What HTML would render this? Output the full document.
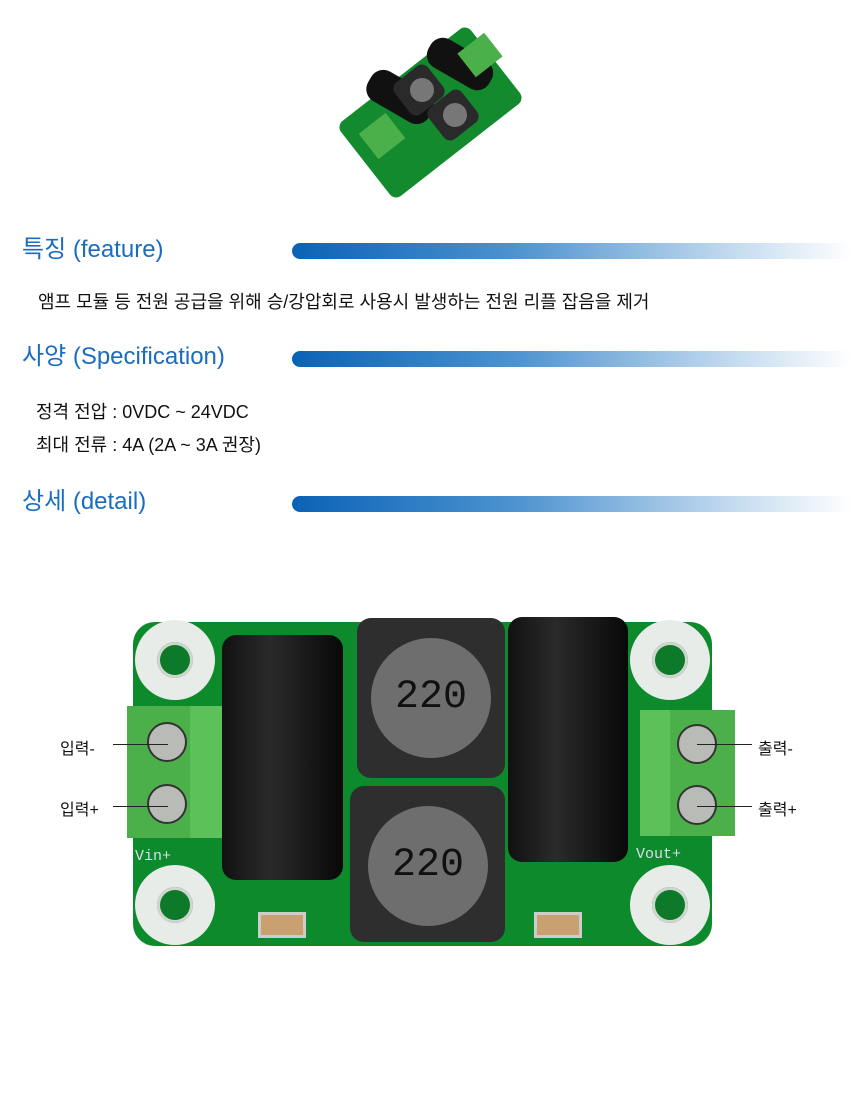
<!DOCTYPE html>
<html><head><meta charset="utf-8"><style>
body{margin:0;width:860px;height:1100px;background:#fff;position:relative;overflow:hidden;font-family:"Liberation Sans","Noto Sans CJK KR",sans-serif}
.a{position:absolute}
.h{position:absolute;left:22px;font-size:24px;color:#1a6cc0;line-height:30px}
.bar{position:absolute;left:292px;width:560px;height:16px;border-radius:8px 0 0 8px;background:linear-gradient(90deg,#0a62b6,#4d93d0 40%,#b9d4ec 75%,#fff)}
.t{position:absolute;font-size:18px;color:#111;line-height:24px}
.hole{position:absolute;width:80px;height:80px;border-radius:50%;background:#e8ece8}
.hole::after{content:"";position:absolute;left:22px;top:22px;width:36px;height:36px;border-radius:50%;background:#0c7a28;box-shadow:inset 0 0 0 3px #cfd6cf}
.cap{position:absolute;background:linear-gradient(90deg,#111,#2a2a2a 40%,#080808);border-radius:14px}
.ind{position:absolute;background:#2e2e2e;border-radius:14px}
.coil{position:absolute;border-radius:50%;background:#6e6e6e;font-family:"Liberation Mono",monospace;color:#111;font-size:40px;text-align:center}
.term{position:absolute;background:#4cb04a}
.scr{position:absolute;width:40px;height:40px;border-radius:50%;background:#b9bcb6;border:2px solid #333;box-sizing:border-box}
.lab{position:absolute;font-size:16px;color:#111}
.ln{position:absolute;height:1px;background:#222}
.r{transform:rotate(-38deg)}
</style></head><body>
<!-- small photo -->
<div class="a r" style="left:348px;top:65px;width:165px;height:95px;background:#138a2e;border-radius:8px"></div>
<div class="a r" style="left:365px;top:80px;width:70px;height:34px;background:#111;border-radius:14px;transform:rotate(30deg)"></div>
<div class="a r" style="left:425px;top:48px;width:70px;height:32px;background:#111;border-radius:14px;transform:rotate(30deg)"></div>
<div class="a r" style="left:398px;top:70px;width:42px;height:40px;background:#2a2a2a;border-radius:8px"></div>
<div class="a r" style="left:432px;top:95px;width:42px;height:40px;background:#2a2a2a;border-radius:8px"></div>
<div class="a" style="left:410px;top:78px;width:24px;height:24px;border-radius:50%;background:#777"></div>
<div class="a" style="left:443px;top:103px;width:24px;height:24px;border-radius:50%;background:#777"></div>
<div class="a r" style="left:463px;top:40px;width:34px;height:30px;background:#4cb04a"></div>
<div class="a r" style="left:365px;top:120px;width:34px;height:32px;background:#4cb04a"></div>

<div class="h" style="top:235px">특징 (feature)</div><div class="bar" style="top:243px"></div>
<div class="t" style="left:38px;top:290px">앰프 모듈 등 전원 공급을 위해 승/강압회로 사용시 발생하는 전원 리플 잡음을 제거</div>
<div class="h" style="top:342px">사양 (Specification)</div><div class="bar" style="top:351px"></div>
<div class="t" style="left:36px;top:400px">정격 전압 : 0VDC ~ 24VDC</div>
<div class="t" style="left:36px;top:433px">최대 전류 : 4A (2A ~ 3A 권장)</div>
<div class="h" style="top:487px">상세 (detail)</div><div class="bar" style="top:496px"></div>

<!-- board -->
<div class="a" style="left:133px;top:622px;width:579px;height:324px;background:#0c8a2c;border-radius:22px"></div>
<div class="hole" style="left:135px;top:620px"></div>
<div class="hole" style="left:630px;top:620px"></div>
<div class="hole" style="left:135px;top:865px"></div>
<div class="hole" style="left:630px;top:865px"></div>
<div class="ind" style="left:357px;top:618px;width:148px;height:160px"><div class="coil" style="left:14px;top:20px;width:120px;height:120px;line-height:120px">220</div></div>
<div class="ind" style="left:350px;top:786px;width:155px;height:156px"><div class="coil" style="left:18px;top:20px;width:120px;height:120px;line-height:120px">220</div></div>
<div class="cap" style="left:222px;top:635px;width:121px;height:245px"></div>
<div class="cap" style="left:508px;top:617px;width:120px;height:245px"></div>
<div class="a" style="left:258px;top:912px;width:42px;height:20px;background:#c9a070;border:3px solid #ccc"></div>
<div class="a" style="left:534px;top:912px;width:42px;height:20px;background:#c9a070;border:3px solid #ccc"></div>
<div class="a" style="left:135px;top:848px;color:#dde;font-size:15px;font-family:'Liberation Mono',monospace">Vin+</div>
<div class="a" style="left:636px;top:846px;color:#dde;font-size:15px;font-family:'Liberation Mono',monospace">Vout+</div>
<div class="term" style="left:127px;top:706px;width:95px;height:132px"></div>
<div class="a" style="left:190px;top:706px;width:32px;height:132px;background:#5cc158"></div>
<div class="term" style="left:640px;top:710px;width:95px;height:126px"></div>
<div class="a" style="left:640px;top:710px;width:30px;height:126px;background:#5cc158"></div>
<div class="scr" style="left:147px;top:722px"></div><div class="scr" style="left:147px;top:784px"></div>
<div class="scr" style="left:677px;top:724px"></div><div class="scr" style="left:677px;top:785px"></div>

<div class="lab" style="left:60px;top:735px">입력-</div><div class="ln" style="left:113px;top:744px;width:55px"></div>
<div class="lab" style="left:60px;top:796px">입력+</div><div class="ln" style="left:113px;top:806px;width:55px"></div>
<div class="lab" style="left:758px;top:735px">출력-</div><div class="ln" style="left:697px;top:744px;width:55px"></div>
<div class="lab" style="left:758px;top:796px">출력+</div><div class="ln" style="left:697px;top:806px;width:55px"></div>
</body></html>
